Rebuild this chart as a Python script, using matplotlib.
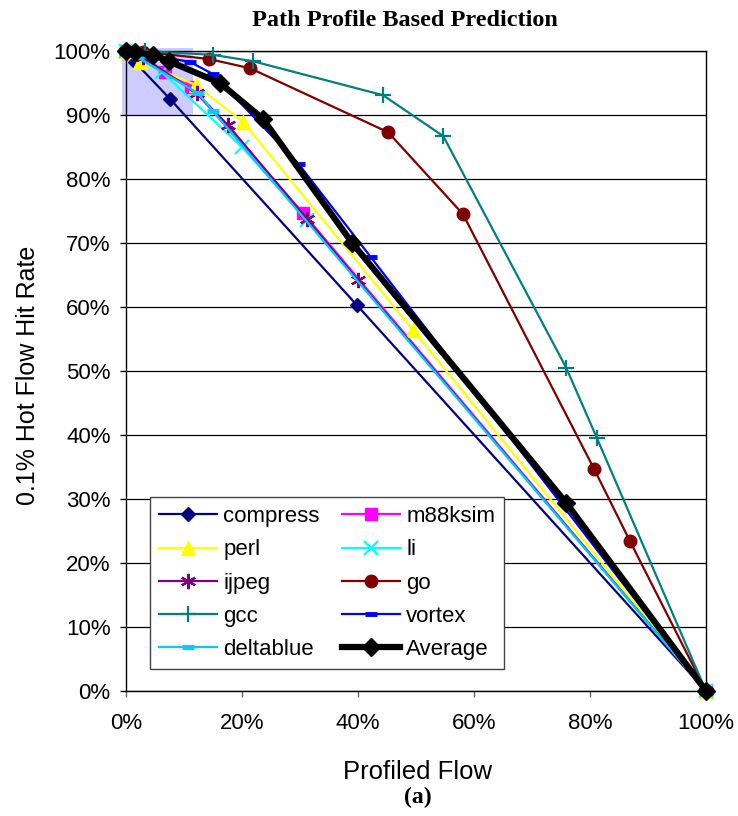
import matplotlib
matplotlib.use("Agg")
import matplotlib.pyplot as plt
from matplotlib.patches import Rectangle
from matplotlib.ticker import PercentFormatter, MultipleLocator

plt.rcParams['font.family'] = ['Liberation Sans', 'DejaVu Sans']

# profiled flow (x) and hot flow hit rate (y), fractions
compress_x = [0.0, 0.015, 0.076, 0.398, 1.0]
compress_y = [1.0, 0.983, 0.925, 0.603, 0.0]
m88ksim_x = [0.0, 0.01, 0.067, 0.112, 0.305, 1.0]
m88ksim_y = [1.0, 0.998, 0.967, 0.944, 0.747, 0.0]
perl_x = [0.0, 0.024, 0.12, 0.202, 0.495, 1.0]
perl_y = [1.0, 0.983, 0.947, 0.889, 0.564, 0.0]
li_x = [0.0, 0.062, 0.20, 0.312, 1.0]
li_y = [1.0, 0.967, 0.85, 0.736, 0.0]
ijpeg_x = [0.0, 0.03, 0.122, 0.176, 0.312, 0.40, 1.0]
ijpeg_y = [1.0, 0.99, 0.934, 0.884, 0.738, 0.642, 0.0]
go_x = [0.0, 0.029, 0.143, 0.214, 0.452, 0.581, 0.807, 0.869, 1.0]
go_y = [1.0, 0.999, 0.9875, 0.973, 0.873, 0.745, 0.347, 0.234, 0.0]
gcc_x = [0.0, 0.033, 0.15, 0.219, 0.443, 0.547, 0.759, 0.812, 1.0]
gcc_y = [1.0, 1.0, 0.994, 0.984, 0.931, 0.867, 0.505, 0.395, 0.0]
vortex_x = [0.0, 0.03, 0.11, 0.15, 0.298, 0.422, 1.0]
vortex_y = [1.0, 0.996, 0.983, 0.964, 0.823, 0.678, 0.0]
deltablue_x = [0.0, 0.02, 0.124, 0.15, 1.0]
deltablue_y = [1.0, 0.99, 0.934, 0.906, 0.0]
average_x = [0.0, 0.015, 0.047, 0.074, 0.162, 0.236, 0.39, 0.759, 1.0]
average_y = [1.0, 0.998, 0.994, 0.984, 0.95, 0.894, 0.70, 0.294, 0.0]

fig = plt.figure(figsize=(7.38, 8.16), dpi=100)
ax = fig.add_axes([126/738, 1-691/816, 580/738, 640/816])

# shaded zoom region in the top-left corner
ax.add_patch(Rectangle((-0.007, 0.9), 0.122, 0.105, facecolor='#CCCCFF',
                       edgecolor='none', zorder=0.5, clip_on=False))

lw = 1.6
ax.plot(compress_x, compress_y, color='#000080', lw=lw, marker='D', ms=7, label='compress', clip_on=False, zorder=3)
ax.plot(m88ksim_x, m88ksim_y, color='#FF00FF', lw=lw, marker='s', ms=8, label='m88ksim', clip_on=False, zorder=3)
ax.plot(perl_x, perl_y, color='#FFFF00', lw=lw, marker='^', ms=10, label='perl', clip_on=False, zorder=3)
ax.plot(li_x, li_y, color='#00FFFF', lw=lw, marker='x', ms=10, mew=1.6, label='li', clip_on=False, zorder=3)
ax.plot(ijpeg_x, ijpeg_y, color='#800080', lw=lw, marker=(6, 2, 0), ms=11, mew=1.6, label='ijpeg', clip_on=False, zorder=3)
ax.plot(go_x, go_y, color='#800000', lw=lw, marker='o', ms=9, label='go', clip_on=False, zorder=3)
ax.plot(gcc_x, gcc_y, color='#008080', lw=lw, marker='+', ms=12, mew=1.6, label='gcc', clip_on=False, zorder=3)
ax.plot(vortex_x, vortex_y, color='#0000FF', lw=lw, marker='_', ms=8, mew=3.5, label='vortex', clip_on=False, zorder=3)
ax.plot(deltablue_x, deltablue_y, color='#00CCFF', lw=lw, marker='_', ms=8, mew=3.5, label='deltablue', clip_on=False, zorder=3)
ax.plot(average_x, average_y, color='black', lw=4.5, marker='D', ms=9, label='Average', clip_on=False, zorder=4)

ax.set_xlim(0, 1)
ax.set_ylim(0, 1)
ax.xaxis.set_major_locator(MultipleLocator(0.2))
ax.yaxis.set_major_locator(MultipleLocator(0.1))
ax.xaxis.set_major_formatter(PercentFormatter(1.0, decimals=0))
ax.yaxis.set_major_formatter(PercentFormatter(1.0, decimals=0))
ax.grid(axis='y', color='black', lw=0.9, zorder=1)
ax.set_axisbelow(True)
for s in ax.spines.values():
    s.set_linewidth(1.0)
ax.tick_params(axis='y', direction='out', length=4, width=1, labelsize=16, pad=7)
ax.tick_params(axis='x', direction='out', length=4, width=1, color='#666666', labelsize=16, pad=12)

h, l = ax.get_legend_handles_labels()
order = ['compress', 'perl', 'ijpeg', 'gcc', 'deltablue',
         'm88ksim', 'li', 'go', 'vortex', 'Average']
hs = [h[l.index(n)] for n in order]
leg = ax.legend(hs, order, ncol=2, loc='lower left',
                bbox_to_anchor=(150/738, 1-669/816), bbox_transform=fig.transFigure,
                fontsize=16, handlelength=2.6, handletextpad=0.3, columnspacing=1.0,
                labelspacing=0.55, borderpad=0.4, borderaxespad=0, fancybox=False,
                framealpha=1, edgecolor='#444444')
leg.get_frame().set_linewidth(1.0)
leg.set_zorder(6)

fig.text(28/738, 1-375/816, '0.1% Hot Flow Hit Rate', rotation=90, fontsize=18,
         ha='center', va='center')
fig.text(418/738, 1-772/816, 'Profiled Flow', fontsize=18.5, ha='center', va='center')
fig.text(405/738, 1-20/816, 'Path Profile Based Prediction', fontsize=17.5, fontweight='bold',
         family='Liberation Serif', ha='center', va='center')
fig.text(418/738, 1-797/816, '(a)', fontsize=17, fontweight='bold',
         family='Liberation Serif', ha='center', va='center')

fig.savefig('out.png', dpi=100)
